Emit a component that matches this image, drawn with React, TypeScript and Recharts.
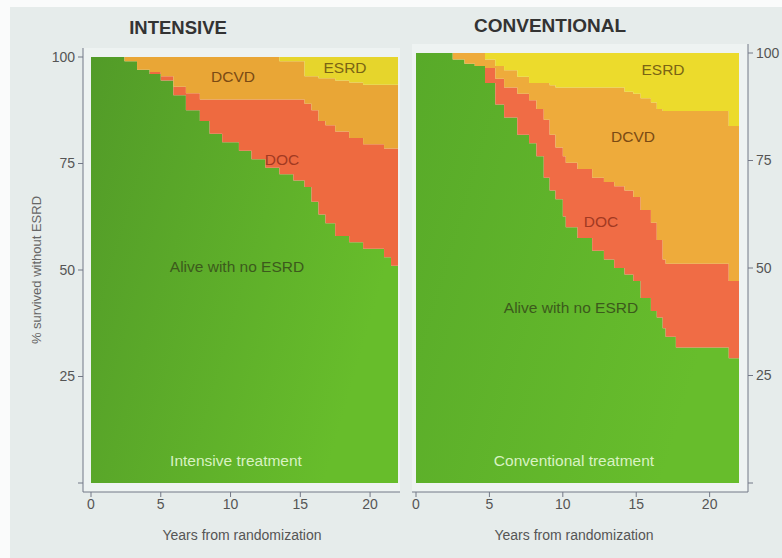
import React from 'react';
import { AreaChart, Area, XAxis, YAxis, CartesianGrid } from 'recharts';

const FONT = '"Liberation Sans", Arial, sans-serif';

// years from randomization (step change points)
const intensiveYears = [0, 2.4, 3.3, 4.2, 5, 5.9, 6.8, 7.8, 8.5, 9.4, 10.6, 11.5, 12.5, 13.5, 14.5, 15.3, 15.8, 16.3, 16.8, 17.5, 18.5, 19.5, 21, 21.5, 22];
const intensiveAlive = [100, 99, 97, 96, 94.5, 91, 87.5, 85, 82, 80, 78, 76, 74, 72.5, 71, 69.5, 66, 63, 61, 58, 56.5, 55, 53, 51, 51];
const intensiveDoc = [0, 0, 0, 0.5, 1, 2, 4, 5, 8, 10, 12, 14, 16, 17.5, 19, 19.5, 21.5, 22, 23, 24.5, 24.5, 24.5, 25.5, 27.5, 27.5];
const intensiveDcvd = [0, 1, 3, 3.5, 4.5, 7, 8.5, 10, 10, 10, 10, 10, 10, 9, 9, 6.5, 8, 10, 11, 12, 13, 14, 15, 15, 15];
const intensiveEsrd = [0, 0, 0, 0, 0, 0, 0, 0, 0, 0, 0, 0, 0, 1, 1, 4.5, 4.5, 5, 5, 5.5, 6, 6.5, 6.5, 6.5, 6.5];

const conventionalYears = [0, 2.5, 3.3, 4.0, 4.7, 5.4, 6.0, 6.9, 7.7, 8.2, 8.7, 9.1, 9.5, 10.0, 10.2, 11.0, 12.0, 12.8, 13.5, 14.2, 14.8, 15.3, 16.0, 16.4, 16.8, 17.0, 17.7, 21.0, 21.3, 22];
const conventionalAlive = [100, 98.5, 97.5, 97, 93, 88, 85, 81, 79, 76, 71, 68, 66, 62, 59.5, 57, 54, 52, 50, 48.5, 47, 43, 40, 38.5, 36, 34, 31.5, 31.5, 29, 29];
const conventionalDoc = [0, 0, 0, 0, 3.5, 6, 7, 9.5, 10, 11, 13.5, 13, 12, 14, 15, 16, 17, 18, 19, 19.5, 19.5, 20.5, 20.5, 18, 16, 17, 19.5, 19.5, 18, 18];
const conventionalDcvd = [0, 1.5, 2.5, 3, 2, 3, 4, 4, 4, 6, 8.5, 11.5, 14, 16, 17.5, 19, 21, 22, 23, 23, 24, 26, 28, 30.5, 34.5, 35.5, 35.5, 35.5, 36, 36];
const conventionalEsrd = [0, 0, 0, 0, 1.5, 3, 4, 5.5, 7, 7, 7, 7.5, 8, 8, 8, 8, 8, 8, 8, 9, 9.5, 10.5, 11.5, 13, 13.5, 13.5, 13.5, 13.5, 17, 17];

const xTicks = [0, 5, 10, 15, 20];
const yTicks = [0, 25, 50, 75, 100];

const buildRows = (years: number[], alive: number[], doc: number[], dcvd: number[], esrd: number[]) =>
  years.map((t, i) => ({ t, alive: alive[i], doc: doc[i], dcvd: dcvd[i], esrd: esrd[i] }));

const intensiveRows = buildRows(intensiveYears, intensiveAlive, intensiveDoc, intensiveDcvd, intensiveEsrd);
const conventionalRows = buildRows(conventionalYears, conventionalAlive, conventionalDoc, conventionalDcvd, conventionalEsrd);

const axisColor = '#737887';
const tickStyle = { fill: '#555', fontSize: 14, fontFamily: FONT };

type PanelProps = {
  id: string;
  rows: any[];
  side: 'left' | 'right';
  width: number;
  marginTop: number;
  marginLeft: number;
  marginRight: number;
  yWidth: number;
  padLeft: number;
  padRight: number;
  colors: { g1: string; g2: string; doc: string; dcvd: string; esrd: string };
};

const Panel = ({ id, rows, side, width, marginTop, marginLeft, marginRight, yWidth, padLeft, padRight, colors }: PanelProps) => (
  <AreaChart
    width={width}
    height={558}
    data={rows}
    margin={{ top: marginTop, right: marginRight, left: marginLeft, bottom: 26 }}
  >
    <defs>
      <linearGradient id={id} x1="0" y1="0" x2="1" y2="0.4">
        <stop offset="0%" stopColor={colors.g1} />
        <stop offset="100%" stopColor={colors.g2} />
      </linearGradient>
    </defs>
    <CartesianGrid horizontal={false} vertical={false} fill="#eef3f2" />
    <XAxis
      type="number"
      dataKey="t"
      domain={[0, 22]}
      ticks={xTicks}
      padding={{ left: padLeft, right: padRight }}
      height={40}
      tick={tickStyle}
      tickSize={5}
      stroke={axisColor}
      tickLine={{ stroke: axisColor }}
    />
    <YAxis
      orientation={side}
      domain={[0, 100]}
      ticks={yTicks}
      width={yWidth}
      padding={{ top: 9, bottom: 9 }}
      tick={tickStyle}
      tickSize={5}
      tickMargin={3}
      tickFormatter={(v: number) => (v === 0 ? '' : String(v))}
      stroke={axisColor}
      tickLine={{ stroke: axisColor }}
    />
    <Area type="stepAfter" dataKey="alive" stackId="s" stroke="none" fill={`url(#${id})`} fillOpacity={1} isAnimationActive={false} dot={false} activeDot={false} />
    <Area type="stepAfter" dataKey="doc" stackId="s" stroke="none" fill={colors.doc} fillOpacity={1} isAnimationActive={false} dot={false} activeDot={false} />
    <Area type="stepAfter" dataKey="dcvd" stackId="s" stroke="none" fill={colors.dcvd} fillOpacity={1} isAnimationActive={false} dot={false} activeDot={false} />
    <Area type="stepAfter" dataKey="esrd" stackId="s" stroke="none" fill={colors.esrd} fillOpacity={1} isAnimationActive={false} dot={false} activeDot={false} />
  </AreaChart>
);

const Txt = ({ x, y, text, size = 15.5, color = '#333', weight = 400, rotate = 0 }: any) => (
  <div
    style={{
      position: 'absolute',
      left: x,
      top: y,
      transform: `translate(-50%, -50%) rotate(${rotate}deg)`,
      whiteSpace: 'nowrap',
      fontSize: size,
      color,
      fontWeight: weight,
      fontFamily: FONT,
      lineHeight: 1,
      pointerEvents: 'none',
    }}
  >
    {text}
  </div>
);

export default function App() {
  return (
    <div style={{ position: 'absolute', left: 0, top: 0, width: 782, height: 558, background: '#fafbfb', overflow: 'hidden' }}>
      <div style={{ position: 'absolute', left: 10, top: 7, width: 772, height: 551, background: '#e6eceb' }} />
      <div style={{ position: 'absolute', left: 0, top: 0 }}>
        <Panel
          id="gIntensive"
          rows={intensiveRows}
          side="left"
          width={402}
          marginTop={48}
          marginLeft={0}
          marginRight={2}
          yWidth={83}
          padLeft={8}
          padRight={2}
          colors={{ g1: '#529b28', g2: '#67bd2b', doc: '#ee6a40', dcvd: '#e9a636', esrd: '#e6d52c' }}
        />
      </div>
      <div style={{ position: 'absolute', left: 400, top: 0 }}>
        <Panel
          id="gConventional"
          rows={conventionalRows}
          side="right"
          width={382}
          marginTop={44}
          marginLeft={12}
          marginRight={0}
          yWidth={34}
          padLeft={4}
          padRight={9}
          colors={{ g1: '#58aa29', g2: '#67bd2c', doc: '#f06c45', dcvd: '#eeab3b', esrd: '#ecdb2c' }}
        />
      </div>

      <Txt x={178} y={28} text="INTENSIVE" size={18.5} weight={700} color="#333" />
      <Txt x={550} y={25} text="CONVENTIONAL" size={19} weight={700} color="#333" />
      <Txt x={36} y={270} text="% survived without ESRD" size={13} color="#666" rotate={-90} />
      <Txt x={242} y={535} text="Years from randomization" size={14} color="#555" />
      <Txt x={574} y={535} text="Years from randomization" size={14} color="#555" />

      <Txt x={233} y={77} text="DCVD" color="#7a4a14" />
      <Txt x={345} y={68} text="ESRD" color="#7a6414" />
      <Txt x={282} y={160} text="DOC" color="#a23a22" />
      <Txt x={237} y={267} text="Alive with no ESRD" color="#3c5a1c" />
      <Txt x={236} y={461} text="Intensive treatment" color="#d8f2c2" />

      <Txt x={663} y={70} text="ESRD" color="#7a6414" />
      <Txt x={633} y={137} text="DCVD" color="#7a4a14" />
      <Txt x={601} y={222} text="DOC" color="#a23a22" />
      <Txt x={571} y={308} text="Alive with no ESRD" color="#3c5a1c" />
      <Txt x={574} y={461} text="Conventional treatment" color="#d8f2c2" />
    </div>
  );
}
